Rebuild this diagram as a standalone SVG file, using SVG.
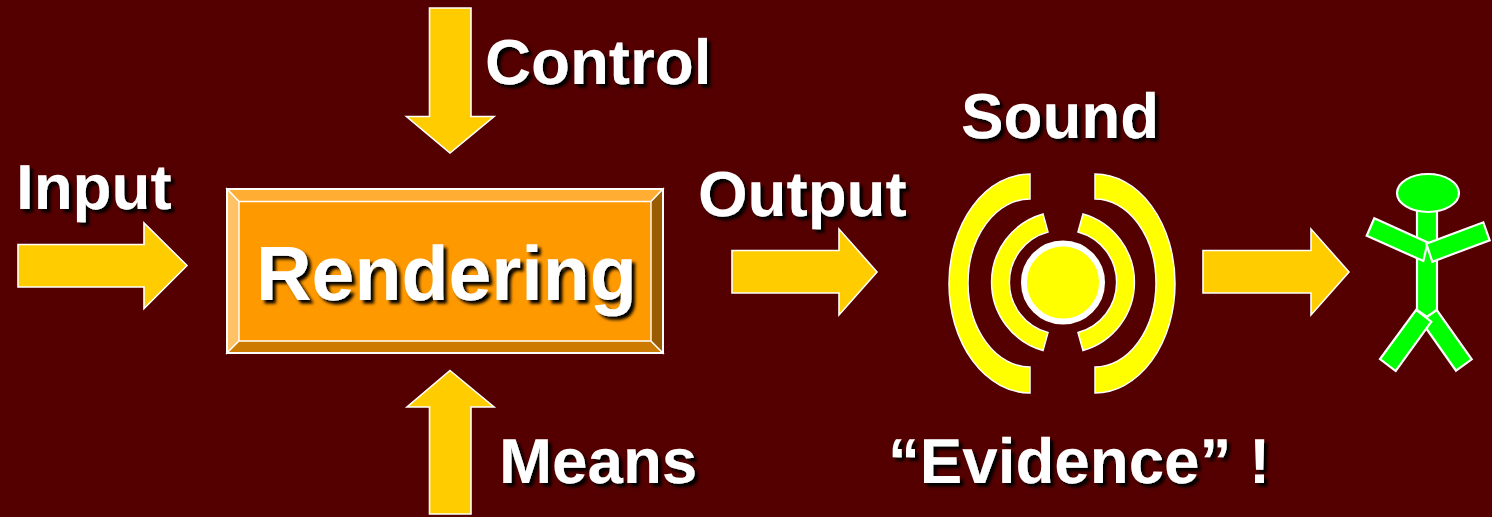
<svg xmlns="http://www.w3.org/2000/svg" width="1492" height="517" viewBox="0 0 1492 517">
<style>
text{font-family:"Liberation Sans",Arial,sans-serif;font-weight:700;fill:#fff;font-size:63.7px;text-rendering:geometricPrecision;filter:url(#ts)}
.a{fill:#FFCC00;stroke:#fff;stroke-width:1.6}
.y{fill:#FFFF00;stroke:#fff;stroke-width:1.5}
.g{fill:#00FF00;stroke:#fff;stroke-width:2.2}
.b{stroke:#fff;stroke-width:1.4}
</style>
<defs><filter id="ts" x="-10%" y="-20%" width="125%" height="145%"><feDropShadow dx="3.500" dy="3.500" stdDeviation="1.500" flood-color="#000"/></filter></defs>
<rect width="1492" height="517" fill="#550000"/>
<g id="connectors">
<polygon class="a" points="18,244.500 144,244.500 144,223 187,265.500 144,308.500 144,287 18,287"/>
<polygon class="a" points="732,250.500 839,250.500 839,229 877,272 839,315 839,293 732,293"/>
<polygon class="a" points="1203,250.500 1311,250.500 1311,229 1349,272 1311,315 1311,293 1203,293"/>
<polygon class="a" points="429.500,8 471,8 471,116.500 494,116.500 450,153 406.500,116.500 429.500,116.500"/>
<polygon class="a" points="450,370.500 494,407 471,407 471,514 429.500,514 429.500,407 407,407"/>
</g>
<g id="rendering">
<rect x="227" y="189" width="436" height="164" fill="#FF9900"/>
<polygon class="b" fill="#FFAD33" points="227,189 663,189 651,201.500 239,201.500"/>
<polygon class="b" fill="#FFC266" points="227,189 239,201.500 239,341 227,353"/>
<polygon class="b" fill="#CC7A00" points="227,353 239,341 651,341 663,353"/>
<polygon class="b" fill="#995C00" points="663,189 663,353 651,341 651,201.500"/>
<rect x="227" y="189" width="436" height="164" fill="none" stroke="#fff" stroke-width="2"/>
<text x="256" y="300" style="font-size:77px">Rendering</text>
</g>
<g id="sound-source">
<path class="y" d="M1030,174 A81,109.500 0 0 0 1030,393 V367 A62,84 0 0 1 1030,199 Z"/>
<path class="y" d="M1095,174 A80,109.500 0 0 1 1095,393 V367 A61,84 0 0 0 1095,199 Z"/>
<path class="y" d="M1043,214 A71,71 0 0 0 1043,350.500 L1048,332.500 A52,52 0 0 1 1048,232 Z"/>
<path class="y" d="M1083,214 A71,71 0 0 1 1083,350.500 L1078,332.500 A52,52 0 0 0 1078,232 Z"/>
<circle cx="1063" cy="282.500" r="39" fill="#FFFF00" stroke="#fff" stroke-width="6"/>
</g>
<g id="person">
<polygon class="g" points="1417,205 1437,205 1437,310 1427,317 1417,310"/>
<ellipse class="g" cx="1428" cy="193" rx="31" ry="19"/>
<polygon class="g" points="1374.300,218.300 1427.700,242.500 1423.300,261 1366.700,235.700"/>
<polygon class="g" points="1483.300,222.300 1489.700,240.300 1432.300,261.700 1426.300,243.700"/>
<polygon class="g" points="1436.700,310 1471.700,359.300 1456,370.700 1421,321"/>
<polygon class="g" points="1416,310 1431.300,321.700 1395.700,371 1380,359"/>
</g>
<g id="labels">
<text x="16" y="209">Input</text>
<text x="485" y="84">Control</text>
<text x="698" y="216">Output</text>
<text x="961" y="138">Sound</text>
<text x="499" y="483">Means</text>
<text x="888" y="483">“Evidence” !</text>
</g>
</svg>
